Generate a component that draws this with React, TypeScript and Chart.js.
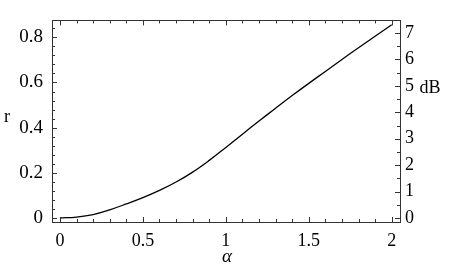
import React, { useEffect, useRef } from "react";
import { Chart, registerables } from "chart.js";

Chart.register(...registerables);

// data
const alphaValues = [0, 0.1, 0.2, 0.3, 0.4, 0.5, 0.6, 0.7, 0.8, 0.9, 1.0, 1.1, 1.2, 1.3, 1.4, 1.5, 1.6, 1.7, 1.8, 1.9, 2.0];
const rValues = [0, 0.004, 0.015, 0.036, 0.062, 0.09, 0.122, 0.159, 0.203, 0.255, 0.312, 0.371, 0.429, 0.486, 0.542, 0.596, 0.649, 0.702, 0.754, 0.805, 0.856];

const xTicks = [0, 0.5, 1, 1.5, 2];
const rTicks = [0, 0.2, 0.4, 0.6, 0.8];
const dBTicks = [0, 1, 2, 3, 4, 5, 6, 7];

const xTitle = "α";
const leftTitle = "r";
const rightTitle = "dB";

const FONT = "'Liberation Serif', 'DejaVu Serif', serif";

function range(from: number, to: number, step: number): number[] {
  const out: number[] = [];
  const n = Math.round((to - from) / step);
  for (let i = 0; i <= n; i++) out.push(+(from + i * step).toFixed(6));
  return out;
}

const framePlugin = {
  id: "frameTicks",
  afterDraw(chart: any) {
    const { ctx, chartArea, scales } = chart;
    const { left, right, top, bottom } = chartArea;
    ctx.save();
    ctx.strokeStyle = "#333";
    ctx.lineWidth = 1;
    ctx.strokeRect(Math.round(left) + 0.5, Math.round(top) + 0.5, Math.round(right - left), Math.round(bottom - top));

    const major = 5;
    const minor = 3;
    ctx.beginPath();
    range(0, 2, 0.1).forEach((v) => {
      const isMajor = xTicks.some((t) => Math.abs(t - v) < 1e-6);
      const len = isMajor ? major : minor;
      const px = Math.round(scales.x.getPixelForValue(v)) + 0.5;
      ctx.moveTo(px, bottom);
      ctx.lineTo(px, bottom - len);
      ctx.moveTo(px, top);
      ctx.lineTo(px, top + len);
    });
    range(0, 0.84, 0.04).forEach((v) => {
      const isMajor = rTicks.some((t) => Math.abs(t - v) < 1e-6);
      const len = isMajor ? major : minor;
      const py = Math.round(scales.y.getPixelForValue(v)) + 0.5;
      ctx.moveTo(left, py);
      ctx.lineTo(left + len, py);
    });
    range(0, 7, 0.5).forEach((v) => {
      const isMajor = dBTicks.some((t) => Math.abs(t - v) < 1e-6);
      const len = isMajor ? major : minor;
      const py = Math.round(scales.y2.getPixelForValue(v)) + 0.5;
      ctx.moveTo(right, py);
      ctx.lineTo(right - len, py);
    });
    ctx.stroke();

    ctx.fillStyle = "#000";
    ctx.textAlign = "center";
    ctx.textBaseline = "middle";
    ctx.font = `18px ${FONT}`;
    ctx.fillText(leftTitle, 7, 117);
    ctx.fillText(rightTitle, 430, 88);
    ctx.font = `italic 19px ${FONT}`;
    ctx.fillText(xTitle, (left + right) / 2 + 1, 257);
    ctx.restore();
  },
};

export default function App() {
  const canvasRef = useRef<HTMLCanvasElement | null>(null);

  useEffect(() => {
    if (!canvasRef.current) return;
    const tickFont = { family: FONT, size: 18 };
    const chart = new Chart(canvasRef.current, {
      type: "line",
      data: {
        datasets: [
          {
            data: alphaValues.map((a, i) => ({ x: a, y: rValues[i] })),
            borderColor: "#000",
            borderWidth: 1.3,
            pointRadius: 0,
            fill: false,
            tension: 0.4,
          },
        ],
      },
      options: {
        animation: false,
        responsive: false,
        maintainAspectRatio: false,
        layout: { padding: { top: 9, left: 0, right: 0, bottom: 0 } },
        plugins: { legend: { display: false }, tooltip: { enabled: false } },
        scales: {
          x: {
            type: "linear",
            min: -0.048,
            max: 2.05,
            grid: { display: false, drawTicks: false },
            border: { display: false },
            afterBuildTicks: (s: any) => {
              s.ticks = xTicks.map((v) => ({ value: v }));
            },
            afterFit: (s: any) => {
              s.height = 57;
            },
            ticks: {
              font: tickFont,
              color: "#000",
              padding: 8,
              maxRotation: 0,
              autoSkip: false,
              callback: (v: any) => String(v),
            },
          },
          y: {
            type: "linear",
            position: "left",
            min: -0.018,
            max: 0.875,
            grid: { display: false, drawTicks: false },
            border: { display: false },
            afterBuildTicks: (s: any) => {
              s.ticks = rTicks.map((v) => ({ value: v }));
            },
            afterFit: (s: any) => {
              s.width = 52;
            },
            ticks: {
              font: { family: FONT, size: 19 },
              color: "#000",
              padding: 9,
              autoSkip: false,
              callback: (v: any) => String(v),
            },
          },
          y2: {
            type: "linear",
            position: "right",
            min: -0.154,
            max: 7.48,
            grid: { display: false, drawTicks: false },
            border: { display: false },
            afterBuildTicks: (s: any) => {
              s.ticks = dBTicks.map((v) => ({ value: v }));
            },
            afterFit: (s: any) => {
              s.width = 50;
            },
            ticks: {
              font: tickFont,
              color: "#000",
              padding: 5,
              autoSkip: false,
              callback: (v: any) => String(v),
            },
          },
        },
      },
      plugins: [framePlugin],
    } as any);
    return () => chart.destroy();
  }, []);

  return (
    <div style={{ position: "fixed", left: 0, top: 0, width: 450, height: 279, background: "#fff" }}>
      <canvas ref={canvasRef} width={450} height={279} style={{ display: "block" }} />
    </div>
  );
}
